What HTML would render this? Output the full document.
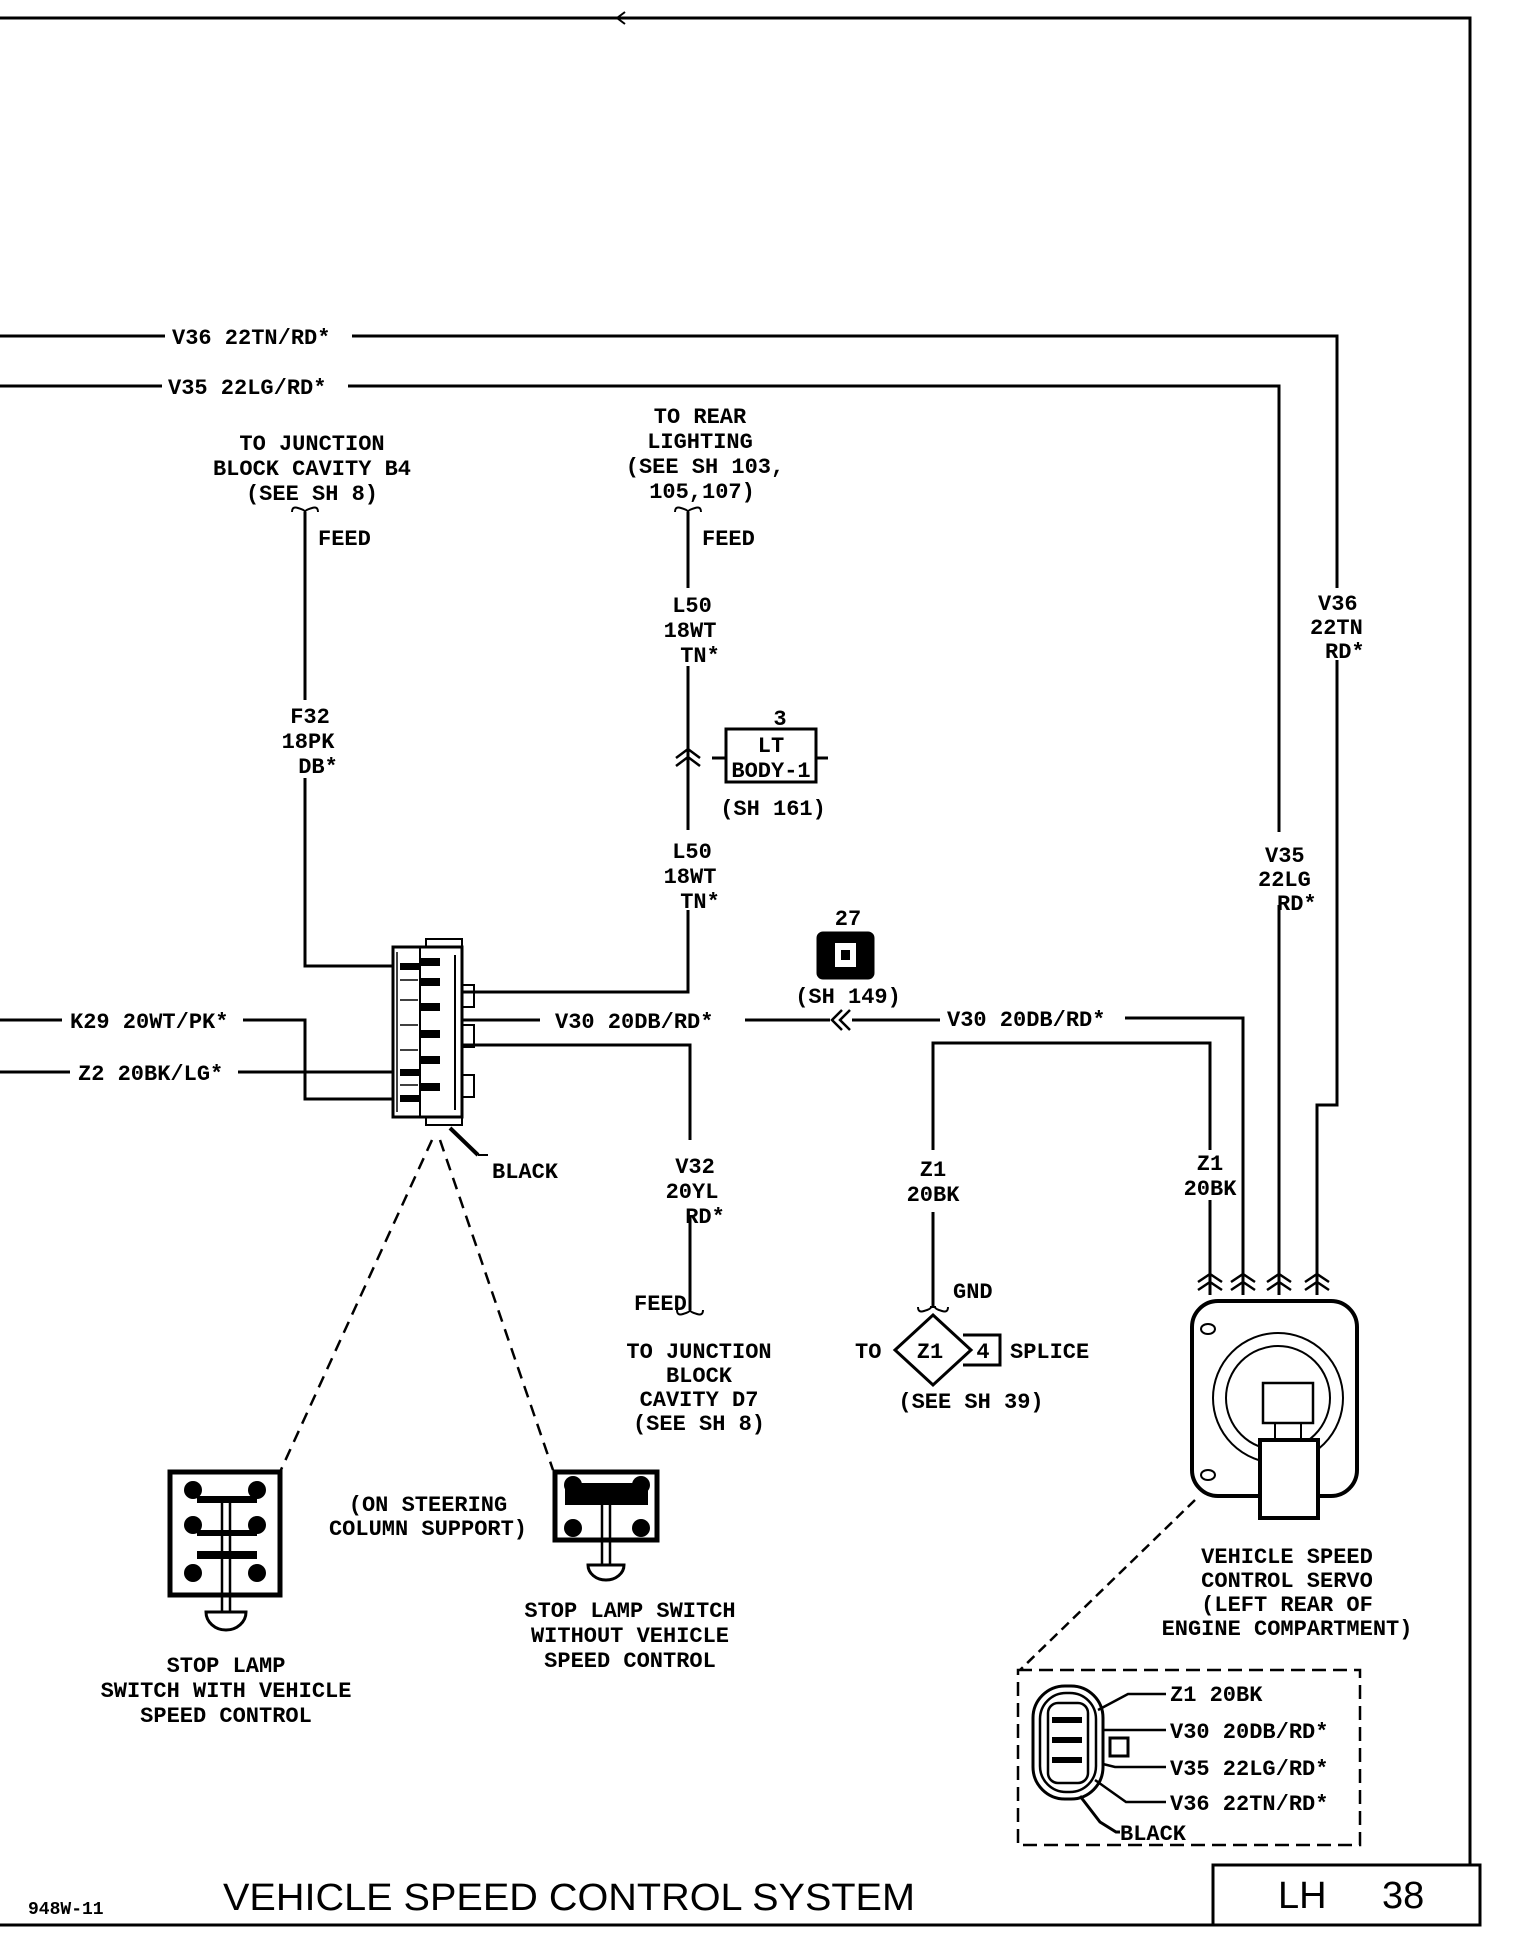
<!DOCTYPE html>
<html><head><meta charset="utf-8"><style>
html,body{margin:0;padding:0;background:#fff}
svg{display:block}
text{font-family:"Liberation Mono",monospace;font-weight:bold;font-size:22px;fill:#000}
.c{text-anchor:middle}
</style></head><body>
<svg width="1520" height="1944" viewBox="0 0 1520 1944" xmlns="http://www.w3.org/2000/svg">
<g fill="none" stroke="#000" stroke-width="3">
<path d="M0 18 H1470 V1865" stroke-width="3"/>
<path d="M625 12 l-8 6 l8 6" stroke-width="2"/>
<path d="M0 1925 H1480 V1865 H1213 V1925" stroke-width="3"/>
<path d="M0 336 H165 M352 336 H1337 V588 M1337 660 V1105 H1317 V1295"/>
<path d="M0 386 H162 M348 386 H1279 V832 M1279 905 V1295"/>
<path d="M305 512 V700 M305 778 V966 H393"/>
<path d="M292 512 q0 -6 6 -4 q7 2 7 4 q0 -2 7 -4 q6 -2 6 4" stroke-width="2"/>
<path d="M688 512 V588 M688 666 V830 M688 910 V992 H462"/>
<path d="M675 512 q0 -6 6 -4 q7 2 7 4 q0 -2 7 -4 q6 -2 6 4" stroke-width="2"/>
<path d="M676 758 L688 749 L700 758 M676 766 L688 757 L700 766" stroke-width="2.5"/>
<path d="M712 758 H726 M816 758 H828" />
<rect x="726" y="729" width="90" height="53"/>
<path d="M0 1020 H62 M243 1020 H305 V1099 H393"/>
<path d="M0 1072 H70 M238 1072 H393"/>
<path d="M462 1020 H540 M745 1020 H830 M852 1020 H940 M1125 1018 H1243 V1295"/>
<path d="M842 1010 L832 1020 L842 1030 M850 1010 L840 1020 L850 1030" stroke-width="2.5"/>
<path d="M462 1045 H690 V1140 M690 1215 V1310"/>
<path d="M677 1310 q0 6 6 4 q7 -2 7 -4 q0 2 7 4 q6 2 6 -4" stroke-width="2"/>
<path d="M933 1150 V1043 H1210 V1150 M1210 1200 V1295 M933 1212 V1307"/>
<path d="M918 1307 q0 6 6 4 q7 -2 7 -4 h4 q0 2 7 4 q6 2 6 -4" stroke-width="2"/>
<path d="M933 1315 L971 1350 L933 1385 L895 1350 Z"/>
<path d="M963 1335 H1000 V1365 H963"/>
<g stroke-width="2.5">
<path d="M1198 1282 L1210 1274 L1222 1282 M1198 1290 L1210 1282 L1222 1290"/>
<path d="M1231 1282 L1243 1274 L1255 1282 M1231 1290 L1243 1282 L1255 1290"/>
<path d="M1267 1282 L1279 1274 L1291 1282 M1267 1290 L1279 1282 L1291 1290"/>
<path d="M1305 1282 L1317 1274 L1329 1282 M1305 1290 L1317 1282 L1329 1290"/>
</g>
<rect x="1192" y="1301" width="165" height="195" rx="26" stroke-width="4"/>
<ellipse cx="1208" cy="1329" rx="7" ry="5" stroke-width="2"/>
<ellipse cx="1208" cy="1475" rx="7" ry="5" stroke-width="2"/>
<circle cx="1278" cy="1398" r="65" stroke-width="2"/>
<circle cx="1278" cy="1398" r="52" stroke-width="2"/>
<rect x="1263" y="1383" width="50" height="40" stroke-width="2.5"/>
<path d="M1275 1423 V1440 M1301 1423 V1440" stroke-width="2"/>
<rect x="1260" y="1440" width="58" height="78" fill="#fff" stroke-width="4"/>
<path d="M1195 1500 L1020 1670" stroke-dasharray="10 6" stroke-width="2.5"/>
<rect x="1018" y="1670" width="342" height="175" stroke-dasharray="14 7" stroke-width="2.5"/>
<rect x="1033" y="1686" width="70" height="113" rx="32" stroke-width="3"/>
<rect x="1040" y="1693" width="56" height="99" rx="26" stroke-width="2.5"/>
<rect x="1048" y="1703" width="40" height="80" rx="10" stroke-width="2.5"/>
<path d="M1052 1720 H1082 M1052 1740 H1082 M1052 1760 H1082" stroke-width="6"/>
<rect x="1110" y="1738" width="18" height="18" stroke-width="3"/>
<path d="M1098 1710 L1128 1694 H1166 M1103 1730 H1166 M1103 1764 L1115 1767 H1166 M1095 1780 L1126 1802 H1166" stroke-width="2.5"/>
<path d="M1080 1796 L1100 1822 L1116 1832 H1120" stroke-width="3"/>
<rect x="393" y="947" width="69" height="170" stroke-width="3"/>
<rect x="426" y="939" width="36" height="8" stroke-width="2"/>
<rect x="426" y="1117" width="36" height="8" stroke-width="2"/>
<path d="M420 947 V1117" stroke-width="2"/>
<rect x="462" y="985" width="12" height="22" stroke-width="2"/>
<rect x="462" y="1025" width="12" height="22" stroke-width="2"/>
<rect x="462" y="1075" width="12" height="22" stroke-width="2"/>
<path d="M455 955 V1110" stroke-width="2"/>
<g fill="#000" stroke="none">
<rect x="400" y="963" width="20" height="7"/><rect x="400" y="1069" width="20" height="7"/><rect x="400" y="1095" width="20" height="7"/>
<rect x="420" y="958" width="20" height="8"/><rect x="420" y="978" width="20" height="8"/><rect x="420" y="1003" width="20" height="8"/>
<rect x="420" y="1030" width="20" height="8"/><rect x="420" y="1056" width="20" height="8"/><rect x="420" y="1083" width="20" height="8"/>
</g>
<path d="M397 952 V1112 M400 980 H418 M400 1000 H418 M400 1025 H418 M400 1050 H418 M400 1085 H418" stroke-width="1.5"/>
<path d="M478 1155 L450 1128" stroke-width="4"/>
<path d="M478 1155 H488" stroke-width="2"/>
<path d="M432 1140 L280 1472 M440 1140 L553 1470" stroke-dasharray="12 8" stroke-width="2.5"/>
<rect x="170" y="1472" width="110" height="123" stroke-width="5"/>
<path d="M222 1500 V1612 M230 1500 V1612" stroke-width="2.5"/>
<path d="M206 1612 A20 18 0 0 0 246 1612 Z" stroke-width="3"/>
<rect x="555" y="1472" width="102" height="68" stroke-width="5"/>
<path d="M602 1505 V1565 M610 1505 V1565" stroke-width="2.5"/>
<path d="M588 1565 A18 15 0 0 0 624 1565 Z" stroke-width="3"/>
<rect x="818" y="933" width="55" height="45" rx="5" fill="#000"/>
<rect x="835" y="943" width="21" height="24" fill="#fff" stroke="none"/>
<rect x="841" y="950" width="9" height="10" fill="#000" stroke="none"/>
</g>
<g fill="#000">
<circle cx="193" cy="1490" r="9"/><circle cx="257" cy="1490" r="9"/>
<circle cx="193" cy="1525" r="9"/><circle cx="257" cy="1525" r="9"/>
<circle cx="193" cy="1573" r="9"/><circle cx="257" cy="1573" r="9"/>
<rect x="197" y="1496" width="60" height="7"/><rect x="197" y="1530" width="60" height="6"/><rect x="197" y="1551" width="60" height="8"/>
<circle cx="573" cy="1485" r="9"/><circle cx="641" cy="1485" r="9"/>
<circle cx="573" cy="1528" r="9"/><circle cx="641" cy="1528" r="9"/>
<rect x="565" y="1483" width="83" height="22"/>
</g>
<text x="172" y="344">V36 22TN/RD*</text>
<text x="168" y="394">V35 22LG/RD*</text>
<text class="c" x="312" y="450">TO JUNCTION</text>
<text class="c" x="312" y="475">BLOCK CAVITY B4</text>
<text class="c" x="312" y="500">(SEE SH 8)</text>
<text x="318" y="545">FEED</text>
<text class="c" x="310" y="723">F32</text>
<text class="c" x="308" y="748">18PK</text>
<text class="c" x="318" y="773">DB*</text>
<text class="c" x="700" y="423">TO REAR</text>
<text class="c" x="700" y="448">LIGHTING</text>
<text class="c" x="705" y="473">(SEE SH 103,</text>
<text class="c" x="702" y="498">105,107)</text>
<text x="702" y="545">FEED</text>
<text class="c" x="692" y="612">L50</text>
<text class="c" x="690" y="637">18WT</text>
<text class="c" x="700" y="662">TN*</text>
<text class="c" x="780" y="725">3</text>
<text class="c" x="771" y="752">LT</text>
<text class="c" x="771" y="777">BODY-1</text>
<text class="c" x="773" y="815">(SH 161)</text>
<text class="c" x="692" y="858">L50</text>
<text class="c" x="690" y="883">18WT</text>
<text class="c" x="700" y="908">TN*</text>
<text class="c" x="848" y="925">27</text>
<text class="c" x="848" y="1003">(SH 149)</text>
<text x="1318" y="610">V36</text>
<text x="1310" y="634">22TN</text>
<text x="1325" y="658">RD*</text>
<text x="1265" y="862">V35</text>
<text x="1258" y="886">22LG</text>
<text x="1277" y="910">RD*</text>
<text x="70" y="1028">K29 20WT/PK*</text>
<text x="78" y="1080">Z2 20BK/LG*</text>
<text x="555" y="1028">V30 20DB/RD*</text>
<text x="947" y="1026">V30 20DB/RD*</text>
<text x="492" y="1178">BLACK</text>
<text class="c" x="695" y="1173">V32</text>
<text class="c" x="692" y="1198">20YL</text>
<text class="c" x="705" y="1223">RD*</text>
<text x="634" y="1310">FEED</text>
<text class="c" x="699" y="1358">TO JUNCTION</text>
<text class="c" x="699" y="1382">BLOCK</text>
<text class="c" x="699" y="1406">CAVITY D7</text>
<text class="c" x="699" y="1430">(SEE SH 8)</text>
<text class="c" x="933" y="1176">Z1</text>
<text class="c" x="933" y="1201">20BK</text>
<text class="c" x="1210" y="1170">Z1</text>
<text class="c" x="1210" y="1195">20BK</text>
<text x="953" y="1298">GND</text>
<text x="855" y="1358">TO</text>
<text class="c" x="930" y="1358">Z1</text>
<text class="c" x="983" y="1358">4</text>
<text x="1010" y="1358">SPLICE</text>
<text class="c" x="971" y="1408">(SEE SH 39)</text>
<text class="c" x="428" y="1511">(ON STEERING</text>
<text class="c" x="428" y="1535">COLUMN SUPPORT)</text>
<text class="c" x="226" y="1672">STOP LAMP</text>
<text class="c" x="226" y="1697">SWITCH WITH VEHICLE</text>
<text class="c" x="226" y="1722">SPEED CONTROL</text>
<text class="c" x="630" y="1617">STOP LAMP SWITCH</text>
<text class="c" x="630" y="1642">WITHOUT VEHICLE</text>
<text class="c" x="630" y="1667">SPEED CONTROL</text>
<text class="c" x="1287" y="1563">VEHICLE SPEED</text>
<text class="c" x="1287" y="1587">CONTROL SERVO</text>
<text class="c" x="1287" y="1611">(LEFT REAR OF</text>
<text class="c" x="1287" y="1635">ENGINE COMPARTMENT)</text>
<text x="1170" y="1701">Z1 20BK</text>
<text x="1170" y="1738">V30 20DB/RD*</text>
<text x="1170" y="1775">V35 22LG/RD*</text>
<text x="1170" y="1810">V36 22TN/RD*</text>
<text x="1120" y="1840">BLACK</text>
<text x="28" y="1914" style="font-size:18px">948W-11</text>
<text x="223" y="1910" textLength="692" lengthAdjust="spacingAndGlyphs" style="font-family:'Liberation Sans',sans-serif;font-weight:normal;font-size:38px">VEHICLE SPEED CONTROL SYSTEM</text>
<text x="1278" y="1908" style="font-family:'Liberation Sans',sans-serif;font-weight:normal;font-size:38px">LH</text>
<text x="1382" y="1908" style="font-family:'Liberation Sans',sans-serif;font-weight:normal;font-size:38px">38</text>
</svg>
</body></html>
